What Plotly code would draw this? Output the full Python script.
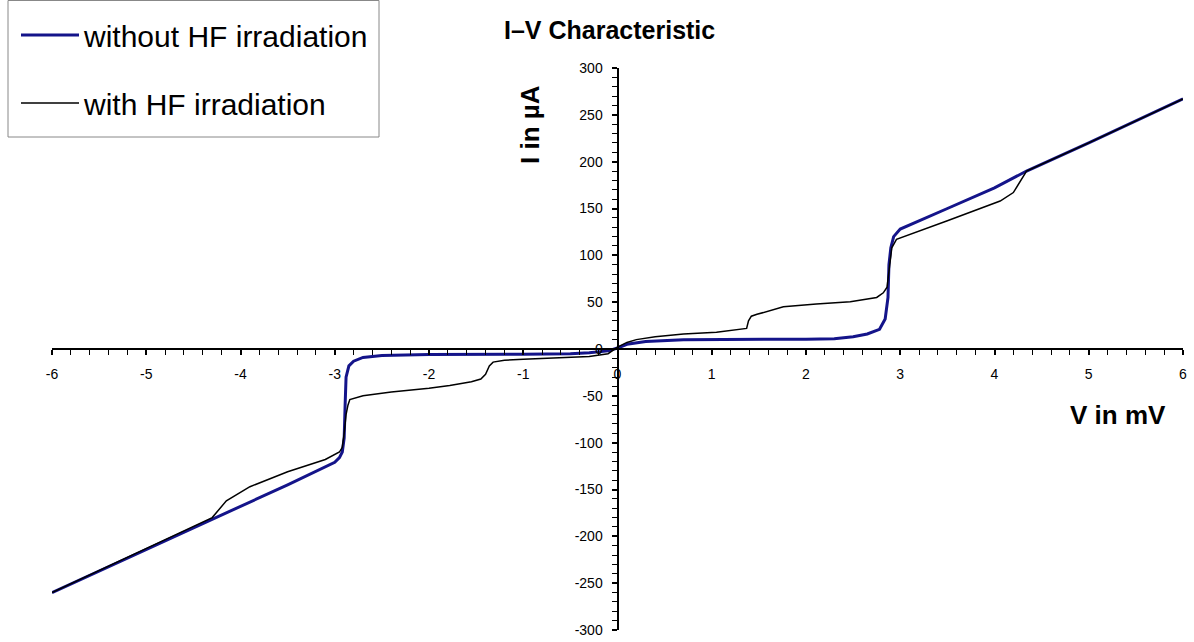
import plotly.graph_objects as go

# Without HF irradiation (blue)
v_without = [-6.0, -5.0, -4.3, -3.5, -3.0, -2.95, -2.92, -2.90, -2.89, -2.88, -2.85, -2.8, -2.7,
             -2.5, -2.0, -1.5, -1.0, -0.5, -0.3, -0.1, 0.0, 0.1, 0.3, 0.7, 1.0, 1.5, 2.0, 2.3,
             2.5, 2.65, 2.78, 2.84, 2.87, 2.88, 2.90, 2.93, 3.0, 3.5, 4.0, 4.34, 5.0, 6.0]
i_without = [-260, -214, -181, -145, -121, -116, -110, -95, -60, -30, -18, -13, -9,
             -7, -6, -6, -5.5, -5, -4, -2, 1, 5, 8, 10, 10, 10.5, 10.5, 11,
             13, 16, 21, 32, 55, 90, 108, 120, 128, 150, 172, 190, 220, 267]

# With HF irradiation (black)
v_with = [-6.0, -5.0, -4.3, -4.15, -3.9, -3.5, -3.1, -2.95, -2.92, -2.90, -2.88, -2.86, -2.84,
          -2.7, -2.4, -2.0, -1.78, -1.55, -1.45, -1.40, -1.36, -1.32, -1.2, -1.0, -0.54, -0.3,
          -0.1, 0.0, 0.1, 0.2, 0.4, 0.7, 1.05, 1.3, 1.37, 1.39, 1.42, 1.48, 1.76, 2.11, 2.47,
          2.75, 2.82, 2.86, 2.88, 2.91, 2.96, 3.07, 3.5, 4.06, 4.2, 4.34, 5.0, 6.0]
i_with = [-260, -213, -180, -162, -147, -131, -118, -110, -105, -90, -70, -60, -54,
          -50, -46, -42, -39, -35, -32, -27, -18, -14, -12, -11, -9, -8,
          -5, 2, 7, 10, 13, 16, 18, 21, 22, 30, 35, 37, 45, 48, 50.5,
          55, 60, 66, 85, 108, 117, 121, 137, 158, 167, 190, 220, 267]

x_ticks = [-6, -5, -4, -3, -2, -1, 0, 1, 2, 3, 4, 5, 6]
x_labels = ["-6", "-5", "-4", "-3", "-2", "-1", "0", "1", "2", "3", "4", "5", "6"]
y_ticks = [-300, -250, -200, -150, -100, -50, 0, 50, 100, 150, 200, 250, 300]
y_labels = ["-300", "-250", "-200", "-150", "-100", "-50", "0", "50", "100", "150", "200", "250", "300"]

FONT = "Liberation Sans, Arial, sans-serif"
W, H = 1194, 642
L, R, T, B = 52, 11, 68, 12
PW, PH = W - L - R, H - T - B


def px(x):
    return (x - L) / PW


def py(y):
    return (H - B - y) / PH


fig = go.Figure()
fig.add_trace(go.Scatter(x=v_without, y=i_without, mode="lines",
                         name="without HF irradiation", legendgroup="a",
                         line=dict(color="#14148a", width=3)))
fig.add_trace(go.Scatter(x=v_with, y=i_with, mode="lines",
                         name="with HF irradiation", legendgroup="b",
                         line=dict(color="#000000", width=1.5)))

fig.update_layout(
    width=W, height=H,
    margin=dict(l=L, r=R, t=T, b=B, autoexpand=False),
    paper_bgcolor="white", plot_bgcolor="white",
    font=dict(family=FONT, color="black"),
    showlegend=True,
    legend=dict(x=px(16), y=py(9), xanchor="left", yanchor="top",
                borderwidth=0, bgcolor="rgba(0,0,0,0)",
                font=dict(size=30, family=FONT), tracegroupgap=26,
                itemwidth=58),
    shapes=[dict(type="rect", xref="paper", yref="paper",
                 x0=px(8), x1=px(379), y0=py(137), y1=py(0.5),
                 line=dict(color="#888888", width=1), fillcolor="rgba(0,0,0,0)",
                 layer="below")],
    xaxis=dict(range=[-6, 6], domain=[0, 1], anchor="free", position=0.5,
               showgrid=False, zeroline=False, showline=True, linecolor="black",
               linewidth=2, ticks="outside", ticklen=5, tickwidth=1.5,
               tickcolor="black", tickvals=x_ticks, ticktext=x_labels,
               tickfont=dict(size=14), ticklabelstandoff=7,
               minor=dict(dtick=0.2, ticks="outside", ticklen=5, tickcolor="black",
                          tickwidth=1.3),
               fixedrange=True),
    yaxis=dict(range=[-300, 300], domain=[0, 1], anchor="free", position=0.5,
               showgrid=False, zeroline=False, showline=True, linecolor="black",
               linewidth=2, ticks="outside", ticklen=5, tickwidth=1.5,
               tickcolor="black", tickvals=y_ticks, ticktext=y_labels,
               tickfont=dict(size=14), ticklabelstandoff=6,
               minor=dict(dtick=10, ticks="outside", ticklen=5, tickcolor="black",
                          tickwidth=1.3),
               fixedrange=True),
    annotations=[
        dict(text="<b>I–V Characteristic</b>", xref="paper", yref="paper",
             x=px(609), y=py(30), xanchor="center", yanchor="middle",
             showarrow=False, font=dict(size=25, family=FONT)),
        dict(text="<b>I in µA</b>", xref="paper", yref="paper",
             x=px(530), y=py(125), xanchor="center", yanchor="middle",
             textangle=-90, showarrow=False, font=dict(size=26, family=FONT)),
        dict(text="<b>V in mV</b>", xref="paper", yref="paper",
             x=px(1118), y=py(415), xanchor="center", yanchor="middle",
             showarrow=False, font=dict(size=26, family=FONT)),
    ],
)

fig.write_html("out.html", config={"displayModeBar": False},
               post_script="document.body.style.margin='0';")
